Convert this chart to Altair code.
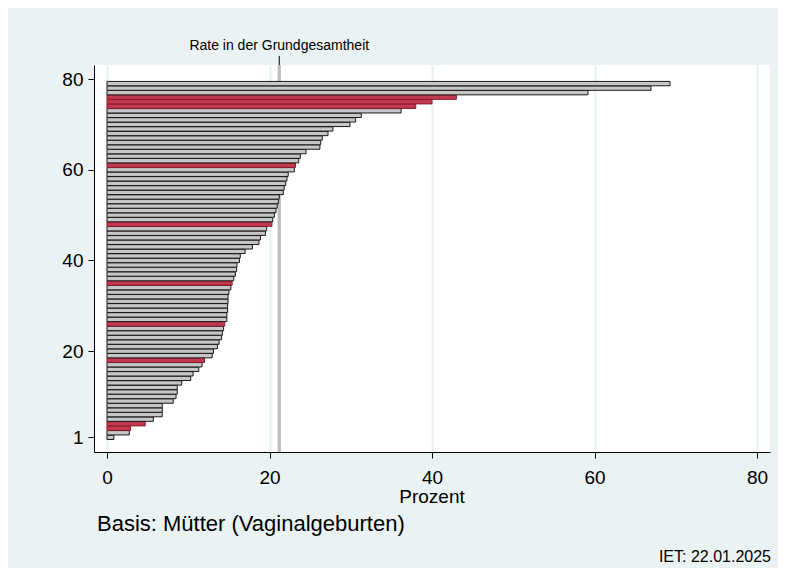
import altair as alt
import pandas as pd

# ---- data ----
ranks = list(range(1, 80))
values = [
    0.85, 2.75, 2.9, 4.7, 5.7, 6.8, 6.8, 6.8, 8.15, 8.5,
    8.65, 8.65, 9.2, 10.3, 10.6, 11.3, 11.7, 12.0, 12.95, 13.1,
    13.6, 13.8, 14.1, 14.2, 14.35, 14.5, 14.75, 14.75, 14.85, 14.85,
    14.9, 14.9, 15.0, 15.25, 15.4, 15.6, 15.8, 15.95, 16.0, 16.3,
    16.4, 17.0, 17.9, 18.7, 18.9, 19.5, 19.65, 20.3, 20.4, 20.6,
    20.8, 20.95, 21.1, 21.2, 21.7, 21.8, 22.0, 22.15, 22.3, 23.05,
    23.2, 23.6, 23.8, 24.5, 26.2, 26.3, 26.5, 27.2, 27.8, 29.9,
    30.6, 31.3, 36.2, 38.0, 40.0, 43.0, 59.2, 66.95, 69.3,
]
highlight_ranks = [3, 4, 18, 26, 35, 48, 61, 74, 75, 76]
reference_rate = 21.2
reference_label = "Rate in der Grundgesamtheit"
x_ticks = [0, 20, 40, 60, 80]
y_ticks = [1, 20, 40, 60, 80]
x_title = "Prozent"
basis_text = "Basis: Mütter (Vaginalgeburten)"
date_text = "IET: 22.01.2025"

df = pd.DataFrame({
    "rank": ranks,
    "value": values,
    "group": ["hl" if r in highlight_ranks else "other" for r in ranks],
})

FONT = "Liberation Sans"
W, H = 676, 387

xscale = alt.Scale(domain=[-1.6, 81.6], nice=False, zero=False)
yscale = alt.Scale(domain=[-2.24, 83.1], nice=False, zero=False)

base = alt.Chart(df)

ref_line = alt.Chart(pd.DataFrame({"v": [reference_rate]})).mark_rule(
    color="#bdbdbd", strokeWidth=3.3
).encode(
    x=alt.X("v:Q", scale=xscale,
            axis=alt.Axis(values=x_ticks, title=None, grid=True, gridColor="#e6eff1",
                          gridWidth=2, domainColor="black", domainWidth=1,
                          tickColor="black", tickSize=6, labelFontSize=19,
                          labelFont=FONT, labelColor="black", labelPadding=10,
                          labelFlush=False)),
    y=alt.value(0), y2=alt.value(H),
)

ref_tick = alt.Chart(pd.DataFrame({"v": [reference_rate]})).mark_rule(
    color="black", strokeWidth=1
).encode(x=alt.X("v:Q", scale=xscale), y=alt.value(-9), y2=alt.value(0))

ref_text = alt.Chart(pd.DataFrame({"v": [reference_rate], "t": [reference_label]})).mark_text(
    font=FONT, fontSize=14, color="black", align="center", baseline="alphabetic"
).encode(x=alt.X("v:Q", scale=xscale), y=alt.value(-15), text="t:N")

bars = base.transform_calculate(
    y0="datum.rank - 0.48", y1="datum.rank + 0.48", x0="0"
).mark_rect(strokeWidth=1).encode(
    x=alt.X("x0:Q", scale=xscale),
    x2="value:Q",
    y=alt.Y("y0:Q", scale=yscale,
            axis=alt.Axis(values=y_ticks, title=None, grid=False, domainColor="black",
                          domainWidth=1, tickColor="black", tickSize=6,
                          labelFontSize=19, labelFont=FONT, labelColor="black",
                          labelPadding=5, labelFlush=False)),
    y2="y1:Q",
    fill=alt.Color("group:N", scale=alt.Scale(domain=["hl", "other"],
                                               range=["#c23a50", "#c6c6c6"]), legend=None),
    stroke=alt.Stroke("group:N", scale=alt.Scale(domain=["hl", "other"],
                                                  range=["#8e1b2d", "#1a1a1a"]), legend=None),
)

title_text = alt.Chart(pd.DataFrame({"t": [x_title]})).mark_text(
    font=FONT, fontSize=19, color="black", align="center", baseline="alphabetic"
).encode(x=alt.value(338), y=alt.value(438), text="t:N")

basis = alt.Chart(pd.DataFrame({"t": [basis_text]})).mark_text(
    font=FONT, fontSize=22, color="black", align="left", baseline="alphabetic"
).encode(x=alt.value(3), y=alt.value(466), text="t:N")

date = alt.Chart(pd.DataFrame({"t": [date_text]})).mark_text(
    font=FONT, fontSize=16, color="black", align="right", baseline="alphabetic"
).encode(x=alt.value(677), y=alt.value(497), text="t:N")

chart = alt.layer(ref_line, ref_tick, ref_text, bars, title_text, basis, date).properties(
    width=W, height=H,
    background="#eaf2f3",
    padding={"left": 86, "top": 57, "right": 8, "bottom": 116},
    autosize=alt.AutoSizeParams(type="none"),
).configure_view(fill="white", stroke=None).resolve_scale(x="shared", y="shared")

chart.save("out.html", embed_options={"renderer": "svg", "actions": False})
